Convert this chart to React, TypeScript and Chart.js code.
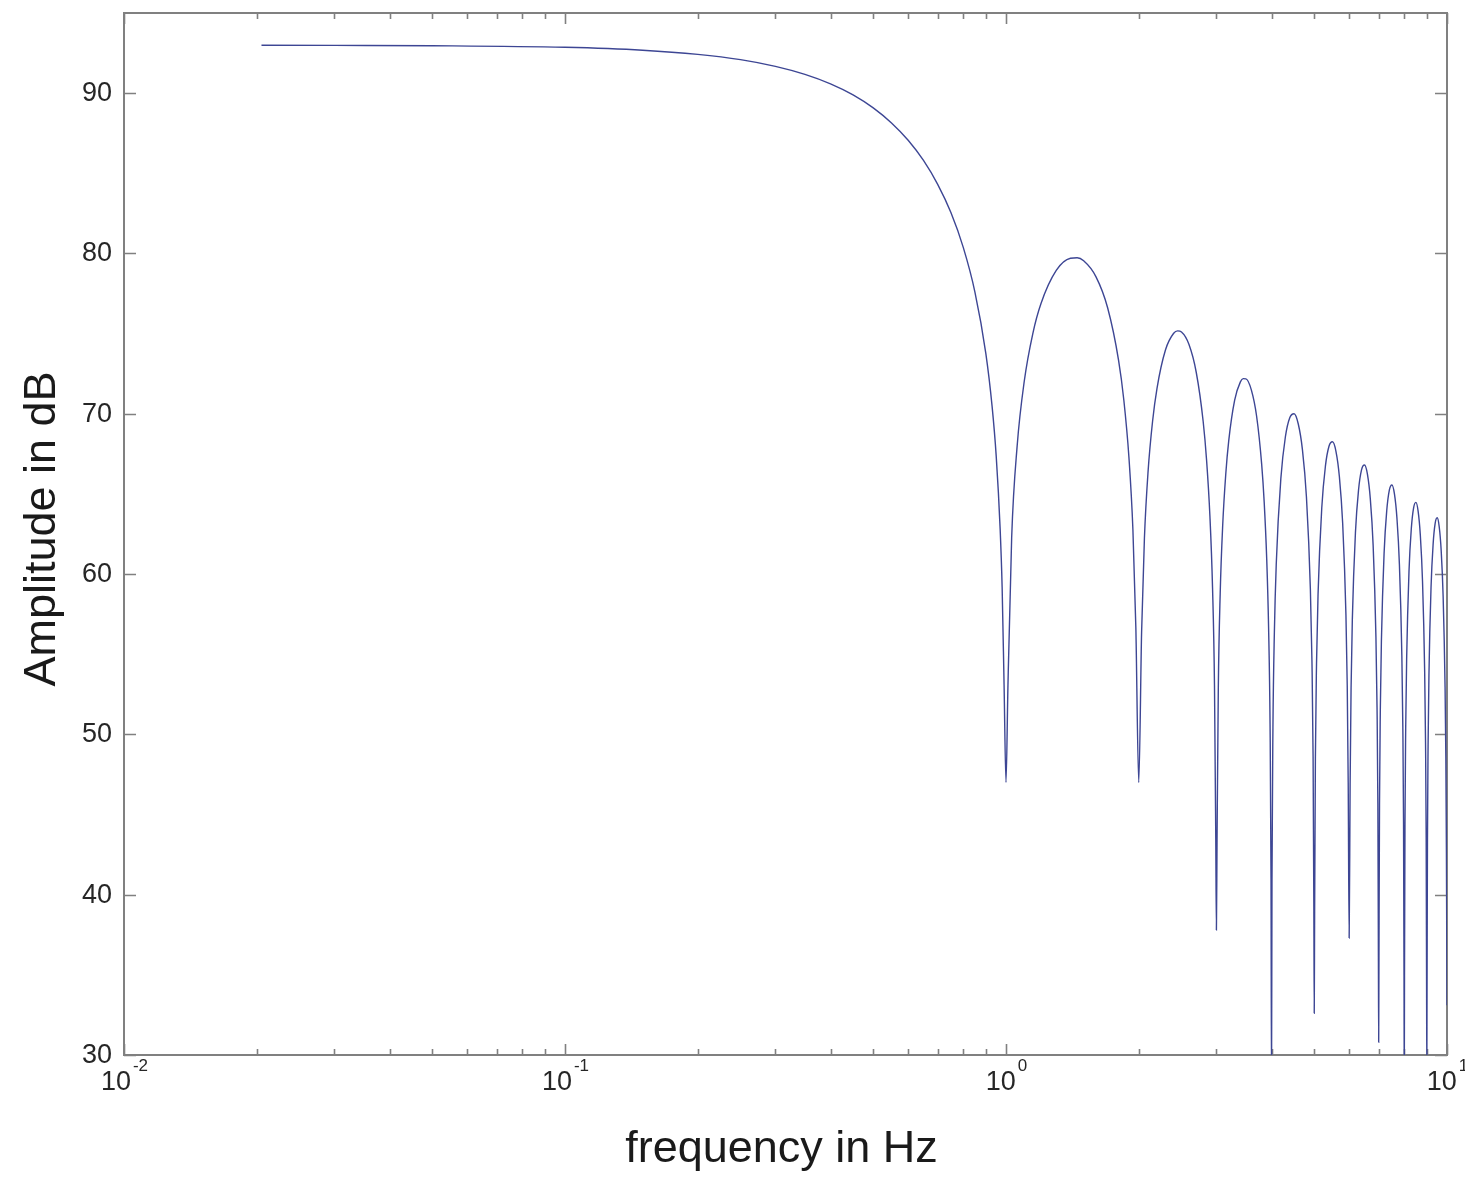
import { useEffect, useRef } from "react";
import { Chart, registerables } from "chart.js";

Chart.register(...registerables);

// ---- data (frequency in Hz, amplitude in dB) ----
const mainLobeHz = [0.0205, 0.03, 0.05, 0.1, 0.15, 0.2, 0.25, 0.3, 0.35, 0.4, 0.45, 0.5, 0.55, 0.6, 0.65, 0.7, 0.75, 0.8, 0.85, 0.9, 0.93, 0.95, 0.97, 0.98, 0.99];
const mainLobeDb = [92.99, 92.98, 92.96, 92.86, 92.68, 92.42, 92.09, 91.67, 91.17, 90.58, 89.89, 89.08, 88.14, 87.06, 85.8, 84.31, 82.55, 80.38, 77.61, 73.77, 70.46, 67.39, 62.79, 59.19, 53.09];

const nullHz = [1, 2, 3, 4, 5, 6, 7, 8, 9, 10];
const nullDb = [47, 47, 37.8, 28, 32.6, 37.3, 30.8, 28, 29, 33.1];

const lobe1Hz = [1.01, 1.03, 1.06, 1.1, 1.15, 1.2, 1.3, 1.4, 1.45, 1.5, 1.6, 1.7, 1.8, 1.85, 1.9, 1.94, 1.97];
const lobe1Db = [52.91, 62.27, 68.0, 72.03, 74.99, 76.86, 78.94, 79.7, 79.73, 79.54, 78.54, 76.61, 73.33, 70.86, 67.28, 62.75, 56.64];

const lobe2Hz = [2.03, 2.06, 2.1, 2.15, 2.2, 2.3, 2.4, 2.45, 2.5, 2.6, 2.7, 2.8, 2.85, 2.9, 2.94, 2.97, 2.99];
const lobe2Db = [56.38, 62.23, 66.42, 69.55, 71.59, 73.99, 75.02, 75.17, 75.1, 74.32, 72.59, 69.5, 67.1, 63.61, 59.14, 53.07, 43.49];

const lobe3Hz = [3.01, 3.03, 3.06, 3.1, 3.15, 3.2, 3.3, 3.4, 3.45, 3.5, 3.6, 3.7, 3.8, 3.85, 3.9, 3.94, 3.97, 3.99];
const lobe3Db = [43.43, 52.9, 58.8, 63.03, 66.23, 68.34, 70.85, 71.99, 72.19, 72.18, 71.49, 69.86, 66.84, 64.49, 61.04, 56.6, 50.55, 40.98];

const lobe4Hz = [4.01, 4.03, 4.06, 4.1, 4.2, 4.3, 4.4, 4.5, 4.6, 4.7, 4.8, 4.9, 4.94, 4.97, 4.99];
const lobe4Db = [40.94, 50.42, 56.34, 60.6, 65.97, 68.55, 69.75, 70.0, 69.36, 67.78, 64.82, 59.06, 54.64, 48.6, 39.04];

const lobe5Hz = [5.01, 5.03, 5.06, 5.1, 5.2, 5.3, 5.4, 5.5, 5.6, 5.7, 5.8, 5.9, 5.94, 5.97];
const lobe5Db = [39.0, 48.5, 54.43, 58.71, 64.12, 66.73, 67.97, 68.25, 67.66, 66.1, 63.17, 57.44, 53.03, 47.01];

const lobe6Hz = [6.03, 6.06, 6.1, 6.2, 6.3, 6.4, 6.5, 6.6, 6.7, 6.8, 6.9, 6.94, 6.97, 6.99];
const lobe6Db = [46.92, 52.86, 57.15, 62.59, 65.23, 66.5, 66.8, 66.23, 64.7, 61.79, 56.08, 51.68, 45.67, 36.11];

const lobe7Hz = [7.01, 7.03, 7.06, 7.1, 7.2, 7.3, 7.4, 7.5, 7.6, 7.7, 7.8, 7.9, 7.94, 7.97, 7.99];
const lobe7Db = [36.09, 45.59, 51.53, 55.83, 61.29, 63.95, 65.24, 65.56, 65.0, 63.49, 60.6, 54.91, 50.51, 44.5, 34.95];

const lobe8Hz = [8.01, 8.03, 8.06, 8.1, 8.2, 8.3, 8.4, 8.5, 8.6, 8.7, 8.8, 8.9, 8.94, 8.97, 8.99];
const lobe8Db = [34.93, 44.44, 50.38, 54.69, 60.16, 62.84, 64.13, 64.47, 63.93, 62.43, 59.55, 53.87, 49.48, 43.47, 33.92];

const lobe9Hz = [9.01, 9.03, 9.06, 9.1, 9.2, 9.3, 9.4, 9.5, 9.6, 9.7, 9.8, 9.9, 9.94, 9.97];
const lobe9Db = [33.91, 43.42, 49.37, 53.68, 59.16, 61.85, 63.16, 63.51, 62.97, 61.48, 58.62, 52.95, 48.56, 42.56];

// ---- axes ----
const yTicks = [30, 40, 50, 60, 70, 80, 90];
const xDecades = [0.01, 0.1, 1, 10];
const xDecadeExponents = ["-2", "-1", "0", "1"];
const xMinorMultipliers = [2, 3, 4, 5, 6, 7, 8, 9];
const xTitle = "frequency in Hz";
const yTitle = "Amplitude in dB";

const FONT = "'Liberation Sans', Arial, Helvetica, sans-serif";

function buildPoints() {
  const lobesHz = [lobe1Hz, lobe2Hz, lobe3Hz, lobe4Hz, lobe5Hz, lobe6Hz, lobe7Hz, lobe8Hz, lobe9Hz];
  const lobesDb = [lobe1Db, lobe2Db, lobe3Db, lobe4Db, lobe5Db, lobe6Db, lobe7Db, lobe8Db, lobe9Db];
  const pts: { x: number; y: number }[] = [];
  mainLobeHz.forEach((f, i) => pts.push({ x: f, y: mainLobeDb[i] }));
  nullHz.forEach((f, n) => {
    pts.push({ x: f, y: nullDb[n] });
    if (n < lobesHz.length) {
      lobesHz[n].forEach((lf, i) => pts.push({ x: lf, y: lobesDb[n][i] }));
    }
  });
  return pts;
}

export default function App() {
  const ref = useRef<HTMLCanvasElement>(null);

  useEffect(() => {
    document.body.style.margin = "0";
    const canvas = ref.current;
    if (!canvas) return;

    const framePlugin = {
      id: "matlabFrame",
      beforeDatasetsDraw(chart: any) {
        const { ctx, chartArea } = chart;
        const { left, right, top, bottom } = chartArea;
        const xs = chart.scales.x;
        const ys = chart.scales.y;
        ctx.save();
        ctx.strokeStyle = "#808080";
        ctx.lineWidth = 2;
        ctx.strokeRect(left, top, right - left, bottom - top);

        // y ticks (inward, both sides) and labels
        ctx.fillStyle = "#262626";
        ctx.font = `27px ${FONT}`;
        ctx.textAlign = "right";
        ctx.textBaseline = "middle";
        ctx.lineWidth = 1.6;
        yTicks.forEach((v) => {
          const py = Math.round(ys.getPixelForValue(v)) + 0.5;
          ctx.beginPath();
          ctx.moveTo(left, py);
          ctx.lineTo(left + 12, py);
          ctx.moveTo(right, py);
          ctx.lineTo(right - 12, py);
          ctx.stroke();
          ctx.fillText(String(v), left - 12, py);
        });

        // x minor ticks
        xDecades.slice(0, -1).forEach((d) => {
          xMinorMultipliers.forEach((m) => {
            const px = Math.round(xs.getPixelForValue(d * m)) + 0.5;
            ctx.beginPath();
            ctx.moveTo(px, bottom);
            ctx.lineTo(px, bottom - 6);
            ctx.moveTo(px, top);
            ctx.lineTo(px, top + 6);
            ctx.stroke();
          });
        });

        // x major ticks + labels with superscripts
        ctx.textAlign = "left";
        ctx.textBaseline = "alphabetic";
        xDecades.forEach((d, i) => {
          const px = Math.round(xs.getPixelForValue(d)) + 0.5;
          ctx.beginPath();
          ctx.moveTo(px, bottom);
          ctx.lineTo(px, bottom - 11);
          ctx.moveTo(px, top);
          ctx.lineTo(px, top + 11);
          ctx.stroke();
          ctx.font = `27px ${FONT}`;
          const wb = ctx.measureText("10").width;
          ctx.font = `17px ${FONT}`;
          const we = ctx.measureText(xDecadeExponents[i]).width;
          const start = px - (wb + we + 2) / 2;
          ctx.font = `27px ${FONT}`;
          ctx.fillText("10", start, bottom + 35);
          ctx.font = `17px ${FONT}`;
          ctx.fillText(xDecadeExponents[i], start + wb + 2, bottom + 16);
        });

        // axis titles
        ctx.fillStyle = "#1a1a1a";
        ctx.font = `45px ${FONT}`;
        ctx.textAlign = "center";
        ctx.textBaseline = "alphabetic";
        ctx.fillText(xTitle, (left + right) / 2 - 4, bottom + 107);
        ctx.save();
        ctx.translate(55, (top + bottom) / 2 - 5);
        ctx.rotate(-Math.PI / 2);
        ctx.fillText(yTitle, 0, 0);
        ctx.restore();
        ctx.restore();
      },
    };

    const chart = new Chart(canvas, {
      type: "line",
      data: {
        datasets: [
          {
            data: buildPoints(),
            borderColor: "#3d4694",
            borderWidth: 1.4,
            pointRadius: 0,
            fill: false,
            cubicInterpolationMode: "monotone",
          },
        ],
      },
      options: {
        animation: false,
        responsive: false,
        maintainAspectRatio: false,
        layout: { padding: { left: 124, top: 13, right: 18, bottom: 123 } },
        plugins: { legend: { display: false }, tooltip: { enabled: false } },
        scales: {
          x: { type: "logarithmic", min: 0.01, max: 10, display: false },
          y: { type: "linear", min: 30, max: 95, display: false },
        },
      },
      plugins: [framePlugin],
    } as any);

    return () => chart.destroy();
  }, []);

  return <canvas ref={ref} width={1465} height={1178} style={{ display: "block" }} />;
}
